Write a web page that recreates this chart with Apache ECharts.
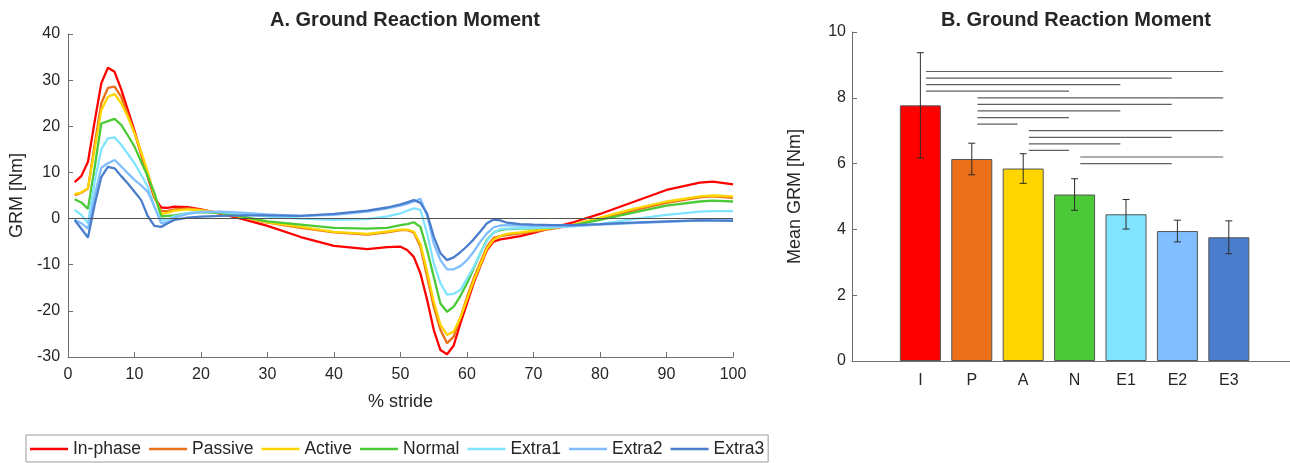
<!DOCTYPE html>
<html>
<head>
<meta charset="utf-8">
<style>
  html, body { margin: 0; padding: 0; background: #fff; }
  #chart { width: 1290px; height: 463px; }
</style>
<script src="https://cdn.jsdelivr.net/npm/echarts@6/dist/echarts.min.js"></script>
</head>
<body>
<div id="chart"></div>
<script>
// % stride sample positions
const stride = [1,2,3,4,5,6,7,8,9,10,11,12,13,14,15,16,18,20,23,26,30,35,40,45,48,50,51,52,53,54,55,56,57,58,59,60,61,62,63,64,65,66,68,70,73,76,80,85,90,95,97,100];

// Ground reaction moment per condition [Nm]
const inPhase = [7.9,9.2,12.3,21,29.3,32.7,31.8,28,23.5,19,14,9,4.5,2.4,2.3,2.6,2.5,2.0,1.0,0,-1.6,-4.0,-5.9,-6.6,-6.2,-6.1,-6.8,-8.3,-11.9,-17.6,-24.1,-28.5,-29.4,-27.5,-22.7,-18.4,-14,-10.3,-6.8,-5,-4.5,-4.3,-3.8,-3.1,-1.9,-0.8,1.0,3.6,6.2,7.8,8.0,7.4];
const passive = [5.1,5.6,6.5,16,25,28.3,28.6,26.4,22.5,18.5,14,9.5,4.5,1.6,1.6,2.0,2.2,1.9,1.2,0.3,-0.9,-2.0,-3.0,-3.5,-3.0,-2.5,-2.5,-3.0,-6.1,-12.6,-19.1,-24.1,-27,-25.6,-21.5,-17,-13,-9.5,-6.1,-4.2,-3.8,-3.6,-3.2,-2.8,-2.2,-1.4,0.0,1.8,3.4,4.6,4.8,4.5];
const active = [5.3,5.7,6.6,15,23.5,26.4,27,25,22,18.5,14.5,10,5,1.0,1.3,1.7,2.0,1.8,1.2,0.4,-0.8,-1.8,-2.9,-3.3,-2.8,-2.4,-2.4,-2.8,-5.5,-11.5,-18,-23,-25.2,-24.5,-21.5,-17.5,-13.5,-10,-6.5,-4.6,-3.8,-3.3,-3.0,-2.6,-2.0,-1.3,0.2,2.1,3.7,4.8,5.0,4.8];
const normal = [4.2,3.5,2.1,11,20.6,21.1,21.6,20.3,18,15.6,12.3,9.1,5.5,0.5,0.6,0.7,1.2,1.4,1.2,0.5,-0.6,-1.3,-2.0,-2.2,-2.0,-1.4,-1.2,-0.8,-1.8,-6.8,-12.6,-18.4,-20.2,-19.1,-16.8,-14,-10.8,-7.5,-4.6,-3.0,-2.5,-2.3,-2.2,-2.1,-1.9,-1.4,-0.3,1.3,2.8,3.7,3.9,3.7];
const extra1 = [1.9,0.8,-1.0,8,15,17.4,17.6,16,14,12,9.5,6.9,2.5,-0.4,-0.2,0.5,1.2,1.5,1.4,1.1,0.4,0.0,-0.3,-0.1,0.5,1.1,1.7,2.2,1.9,-3.2,-9.7,-14,-16.5,-16.3,-15.5,-13,-10.5,-7.5,-4.8,-3.0,-2.3,-2.2,-2.1,-2.0,-1.9,-1.7,-1.2,-0.1,0.8,1.5,1.6,1.6];
const extra2 = [-0.3,-1.0,-2.2,5,11,12,12.7,11.3,9.8,8.4,7.2,5.8,2.6,-1.0,-0.8,0.2,1.0,1.4,1.5,1.3,0.9,0.6,0.8,1.5,2.2,2.8,3.2,3.7,4.3,0.6,-5.4,-9,-11,-11,-10.3,-9,-7.2,-5,-3.2,-1.9,-1.5,-1.4,-1.5,-1.6,-1.7,-1.6,-1.3,-1.0,-0.7,-0.4,-0.3,-0.3];
const extra3 = [-0.3,-2.2,-4.1,3,9,11.2,10.9,9.2,7.6,5.8,4,0.5,-1.6,-1.8,-1.0,-0.3,0.2,0.4,0.6,0.7,0.7,0.6,1.0,1.7,2.4,3.1,3.5,4.0,3.4,1.1,-3.9,-7.5,-9,-8.4,-7.3,-6.0,-4.5,-2.8,-1.0,-0.2,-0.4,-0.9,-1.2,-1.3,-1.4,-1.4,-1.2,-0.9,-0.6,-0.4,-0.45,-0.5];

const conditionNames = ['In-phase','Passive','Active','Normal','Extra1','Extra2','Extra3'];
const conditionColors = ['#FF0000','#EB6F18','#FFD500','#4CC937','#80E4FF','#80BEFF','#4A7ECC'];
const curves = [inPhase, passive, active, normal, extra1, extra2, extra3];

// Mean GRM per condition (bar panel)
const groupLabels = ['I','P','A','N','E1','E2','E3'];
const groupPos = [1,2,3,4,5,6,7];
const meanGRM = [7.77,6.14,5.85,5.06,4.46,3.95,3.76];
const sdGRM = [1.60,0.48,0.45,0.48,0.45,0.33,0.50];

// Pairwise significance brackets: from group, to group, height
const sigFrom = [1,1,1,1,2,2,2,2,2,3,3,3,3,4,4];
const sigTo   = [7,6,5,4,7,6,5,4,3,7,6,5,4,7,6];
const sigLevel = [8.8,8.6,8.4,8.2,8.0,7.8,7.6,7.4,7.2,7.0,6.8,6.6,6.4,6.2,6.0];

const FONT = "'Liberation Sans', Arial, Helvetica, sans-serif";
const TXT = '#262626';
const AXC = '#6e6e6e';

const chart = echarts.init(document.getElementById('chart'), null, { renderer: 'canvas' });

const lineSeries = curves.map((vals, k) => ({
  name: conditionNames[k],
  type: 'line',
  xAxisIndex: 0,
  yAxisIndex: 0,
  data: stride.map((x, i) => [x, vals[i]]),
  symbol: 'none',
  smooth: false,
  lineStyle: { color: conditionColors[k], width: 2.3 },
  itemStyle: { color: conditionColors[k] },
  z: 2 + k
}));

// zero reference line
lineSeries[lineSeries.length - 1].markLine = {
  silent: true,
  symbol: 'none',
  label: { show: false },
  lineStyle: { color: '#505050', width: 1, type: 'solid' },
  data: [{ yAxis: 0 }],
  z: 20
};

const barSeries = {
  type: 'bar',
  xAxisIndex: 1,
  yAxisIndex: 1,
  barWidth: 41,
  data: groupPos.map((p, i) => ({
    value: [p, meanGRM[i]],
    itemStyle: { color: conditionColors[i], borderColor: '#555555', borderWidth: 1 }
  })),
  z: 2
};

const errorSeries = {
  type: 'custom',
  xAxisIndex: 1,
  yAxisIndex: 1,
  data: groupPos.map((p, i) => [p, meanGRM[i] - sdGRM[i], meanGRM[i] + sdGRM[i]]),
  renderItem: function (params, api) {
    const lo = api.coord([api.value(0), api.value(1)]);
    const hi = api.coord([api.value(0), api.value(2)]);
    const cap = 3.5;
    const st = { stroke: '#2b2b2b', lineWidth: 1 };
    return {
      type: 'group',
      children: [
        { type: 'line', shape: { x1: lo[0], y1: lo[1], x2: hi[0], y2: hi[1] }, style: st },
        { type: 'line', shape: { x1: lo[0] - cap, y1: lo[1], x2: lo[0] + cap, y2: lo[1] }, style: st },
        { type: 'line', shape: { x1: hi[0] - cap, y1: hi[1], x2: hi[0] + cap, y2: hi[1] }, style: st }
      ]
    };
  },
  z: 5
};

const sigSeries = {
  type: 'custom',
  xAxisIndex: 1,
  yAxisIndex: 1,
  data: sigFrom.map((f, i) => [f, sigTo[i], sigLevel[i]]),
  renderItem: function (params, api) {
    const inset = 0.11;
    const a = api.coord([api.value(0) + inset, api.value(2)]);
    const b = api.coord([api.value(1) - inset, api.value(2)]);
    return {
      type: 'line',
      shape: { x1: a[0], y1: a[1], x2: b[0], y2: b[1] },
      style: { stroke: '#5f5f5f', lineWidth: 1.2 }
    };
  },
  z: 5
};

const axisCommon = {
  axisLine: { show: true, onZero: false, lineStyle: { color: AXC, width: 1 } },
  axisTick: { show: true, inside: true, length: 5, lineStyle: { color: AXC } },
  splitLine: { show: false },
  axisLabel: { color: TXT, fontSize: 16, fontFamily: FONT },
  nameTextStyle: { color: TXT, fontSize: 18, fontFamily: FONT }
};

const option = {
  animation: false,
  backgroundColor: '#ffffff',
  textStyle: { fontFamily: FONT },
  title: [
    { text: 'A. Ground Reaction Moment', left: 400, top: 5, textAlign: 'center',
      textStyle: { fontSize: 20, fontWeight: 'bold', color: TXT, fontFamily: FONT } },
    { text: 'B. Ground Reaction Moment', left: 1071, top: 5, textAlign: 'center',
      textStyle: { fontSize: 20, fontWeight: 'bold', color: TXT, fontFamily: FONT } }
  ],
  legend: {
    data: conditionNames,
    left: 26,
    top: 435,
    orient: 'horizontal',
    icon: 'rect',
    itemWidth: 38,
    itemHeight: 2.4,
    itemGap: 8,
    padding: [4, 4, 3, 4],
    borderColor: '#9a9a9a',
    borderWidth: 1,
    textStyle: { color: TXT, fontSize: 17.5, fontFamily: FONT, lineHeight: 20 }
  },
  grid: [
    { left: 67, right: 557, top: 34, bottom: 106 },
    { left: 852, right: 0, top: 32, bottom: 102 }
  ],
  xAxis: [
    Object.assign({}, axisCommon, {
      gridIndex: 0, type: 'value', min: 0, max: 100, interval: 10,
      name: '% stride', nameLocation: 'middle', nameGap: 36,
      axisLabel: Object.assign({}, axisCommon.axisLabel, { margin: 10 })
    }),
    Object.assign({}, axisCommon, {
      gridIndex: 1, type: 'value', min: -0.33, max: 8.19,
      axisTick: { show: true, inside: true, length: 5, lineStyle: { color: AXC }, customValues: groupPos },
      axisLabel: Object.assign({}, axisCommon.axisLabel, {
        margin: 12,
        customValues: groupPos,
        formatter: function (v) { return groupLabels[Math.round(v) - 1] || ''; }
      })
    })
  ],
  yAxis: [
    Object.assign({}, axisCommon, {
      gridIndex: 0, type: 'value', min: -30, max: 40, interval: 10,
      name: 'GRM [Nm]', nameLocation: 'middle', nameGap: 38, nameRotate: 90,
      axisLabel: Object.assign({}, axisCommon.axisLabel, { margin: 8 })
    }),
    Object.assign({}, axisCommon, {
      gridIndex: 1, type: 'value', min: 0, max: 10, interval: 2,
      name: 'Mean GRM [Nm]', nameLocation: 'middle', nameGap: 48, nameRotate: 90,
      axisLabel: Object.assign({}, axisCommon.axisLabel, { margin: 6 })
    })
  ],
  series: lineSeries.concat([barSeries, errorSeries, sigSeries])
};

chart.setOption(option);
</script>
</body>
</html>
